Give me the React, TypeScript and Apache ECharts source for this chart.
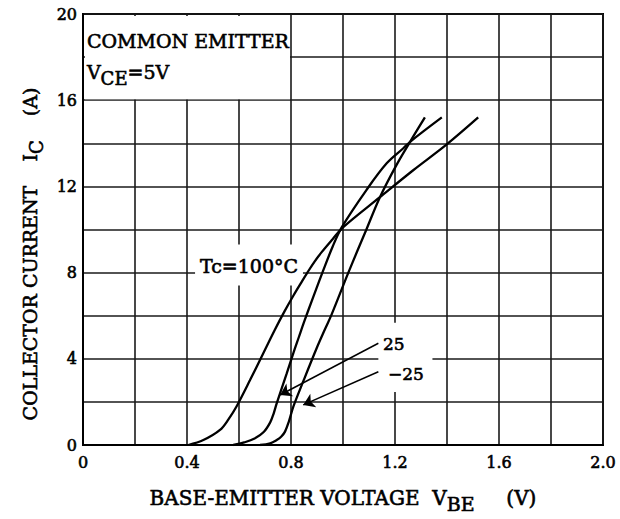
import React, { useEffect, useRef } from 'react';
import * as echarts from 'echarts';

const FONT = '"DejaVu Serif", "Liberation Serif", serif';

// Tc = 100 °C
const vbe100 = [0.405, 0.463, 0.527, 0.56, 0.591, 0.642, 0.693, 0.738, 0.775, 0.81, 0.84, 0.863, 0.89, 0.918, 0.96, 1.0, 1.142, 1.27, 1.399, 1.52];
const ic100 = [0, 0.23, 0.7, 1.2, 1.8, 3.0, 4.25, 5.35, 6.2, 6.95, 7.55, 8.0, 8.5, 8.95, 9.55, 10.1, 11.5, 12.75, 13.95, 15.2];
// Tc = 25 °C
const vbe25 = [0.578, 0.62, 0.66, 0.695, 0.72, 0.733, 0.745, 0.783, 0.81, 0.83, 0.85, 0.885, 0.924, 0.96, 0.995, 1.09, 1.168, 1.232, 1.258, 1.38];
const ic25 = [0, 0.12, 0.3, 0.6, 1.05, 1.45, 1.93, 3.3, 4.3, 5.0, 5.7, 6.85, 8.1, 9.2, 10.1, 11.83, 13.07, 13.77, 14.07, 15.2];
// Tc = -25 °C
const vbeM25 = [0.681, 0.72, 0.745, 0.762, 0.777, 0.792, 0.809, 0.847, 0.899, 0.931, 0.956, 1.019, 1.055, 1.09, 1.142, 1.206, 1.258, 1.315];
const icM25 = [0, 0.08, 0.23, 0.38, 0.62, 1.1, 1.78, 2.95, 4.5, 5.38, 6.05, 7.95, 9.0, 10.0, 11.5, 13.0, 14.07, 15.2];

const xTickLabels = ['0', '0.4', '0.8', '1.2', '1.6', '2.0'];
const yTickLabels = ['0', '4', '8', '12', '16', '20'];

const zip = (xs: number[], ys: number[]) => xs.map((x, i) => [x, ys[i]]);

export default function App() {
  const ref = useRef<HTMLDivElement>(null);
  useEffect(() => {
    if (!ref.current) return;
    const chart = echarts.init(ref.current, undefined, { renderer: 'svg' });
    const lineStyle = { color: '#000', width: 2.3 };
    const border = { textBorderColor: '#000', textBorderWidth: 0.6 };
    const axisSubRich = { s: { fontFamily: FONT, fontSize: 19, color: '#000', padding: [12, 0, 0, 0], ...border } };
    const gfxSubRich = { s: { fontFamily: FONT, fontSize: 18, fill: '#000', stroke: '#000', lineWidth: 0.6, padding: [12, 0, 0, 0] } };
    const option: any = {
      animation: false,
      backgroundColor: '#fff',
      grid: { left: 83, right: 17, top: 14, bottom: 74, show: true, borderColor: '#000', borderWidth: 2 },
      xAxis: {
        type: 'value', min: 0, max: 2, interval: 0.4,
        axisLine: { show: true, lineStyle: { color: '#000', width: 2 } },
        axisTick: { show: false },
        minorTick: { show: false, splitNumber: 2 },
        splitLine: { show: true, lineStyle: { color: '#1a1a1a', width: 1.6 } },
        minorSplitLine: { show: true, lineStyle: { color: '#1a1a1a', width: 1.6 } },
        axisLabel: { margin: 9, fontFamily: FONT, fontSize: 16, color: '#000', ...border, formatter: (_v: number, i: number) => xTickLabels[i] ?? '' },
        name: 'BASE-EMITTER VOLTAGE  V{s|BE}     (V)',
        nameLocation: 'middle', nameGap: 37,
        nameTextStyle: { fontFamily: FONT, fontSize: 20, color: '#000', ...border, rich: axisSubRich },
      },
      yAxis: {
        type: 'value', min: 0, max: 20, interval: 4,
        axisLine: { show: true, lineStyle: { color: '#000', width: 2 } },
        axisTick: { show: false },
        minorTick: { show: false, splitNumber: 2 },
        splitLine: { show: true, lineStyle: { color: '#1a1a1a', width: 1.6 } },
        minorSplitLine: { show: true, lineStyle: { color: '#1a1a1a', width: 1.6 } },
        axisLabel: { margin: 6, fontFamily: FONT, fontSize: 16, color: '#000', ...border, formatter: (_v: number, i: number) => yTickLabels[i] ?? '' },
      },
      series: [
        { name: 'Tc=100°C', type: 'line', data: zip(vbe100, ic100), showSymbol: false, smooth: 0.35, lineStyle, z: 3 },
        {
          name: 'Tc=25°C', type: 'line', data: zip(vbe25, ic25), showSymbol: false, smooth: 0.35, lineStyle, z: 3,
          markLine: {
            silent: true, symbol: ['none', 'arrow'], symbolSize: 11, label: { show: false },
            lineStyle: { color: '#000', width: 1.5, type: 'solid' },
            data: [[{ coord: [1.136, 4.72] }, { coord: [0.758, 2.32] }]],
          },
        },
        {
          name: 'Tc=-25°C', type: 'line', data: zip(vbeM25, icM25), showSymbol: false, smooth: 0.35, lineStyle, z: 3,
          markLine: {
            silent: true, symbol: ['none', 'arrow'], symbolSize: 11, label: { show: false },
            lineStyle: { color: '#000', width: 1.5, type: 'solid' },
            data: [[{ coord: [1.136, 3.4] }, { coord: [0.847, 1.86] }]],
          },
        },
      ],
    };
    chart.setOption(option);

    const px = (v: number, i: number) => chart.convertToPixel({ gridIndex: 0 }, [v, i]) as number[];
    const box = (v0: number, i1: number, v1: number, i0: number, inset: number[]) => {
      const a = px(v0, i1), b = px(v1, i0);
      return {
        type: 'rect', z: 1, silent: true,
        shape: { x: a[0] + inset[0], y: a[1] + inset[1], width: b[0] - a[0] - inset[0] - inset[2], height: b[1] - a[1] - inset[1] - inset[3] },
        style: { fill: '#fff' },
      };
    };
    const txt = (v: number, i: number, text: string, extra: any = {}) => {
      const p = px(v, i);
      return {
        type: 'text', z: 4, silent: true, x: p[0], y: p[1],
        style: { text, fontFamily: FONT, fontSize: 19, fill: '#000', stroke: '#000', lineWidth: 0.6, textAlign: 'left', textVerticalAlign: 'middle', rich: gfxSubRich, ...extra },
      };
    };
    const yTitleAt = px(0, 0);
    chart.setOption({
      graphic: [
        box(0, 20, 0.8, 16, [2, 2, 1, 1]),
        box(0.431, 9.3, 0.846, 7.4, [0, 0, 0, 0]),
        box(1.136, 5.67, 1.344, 2.46, [0, 0, 0, 0]),
        txt(0.015, 18.75, 'COMMON EMITTER'),
        txt(0.015, 17.3, 'V{s|CE}=5V'),
        txt(0.45, 8.3, 'Tc=100°C'),
        txt(1.154, 4.69, '25', { fontSize: 17 }),
        txt(1.173, 3.3, '−25', { fontSize: 17 }),
        {
          type: 'text', z: 4, silent: true, x: yTitleAt[0] - 53, y: 254, rotation: Math.PI / 2,
          style: { text: 'COLLECTOR CURRENT    I{s|C}    (A)', fontFamily: FONT, fontSize: 19, fill: '#000', stroke: '#000', lineWidth: 0.6, textAlign: 'center', textVerticalAlign: 'middle', rich: gfxSubRich },
        },
      ],
    });
    return () => chart.dispose();
  }, []);
  return <div ref={ref} style={{ position: 'fixed', left: 0, top: 0, width: 620, height: 519 }} />;
}
